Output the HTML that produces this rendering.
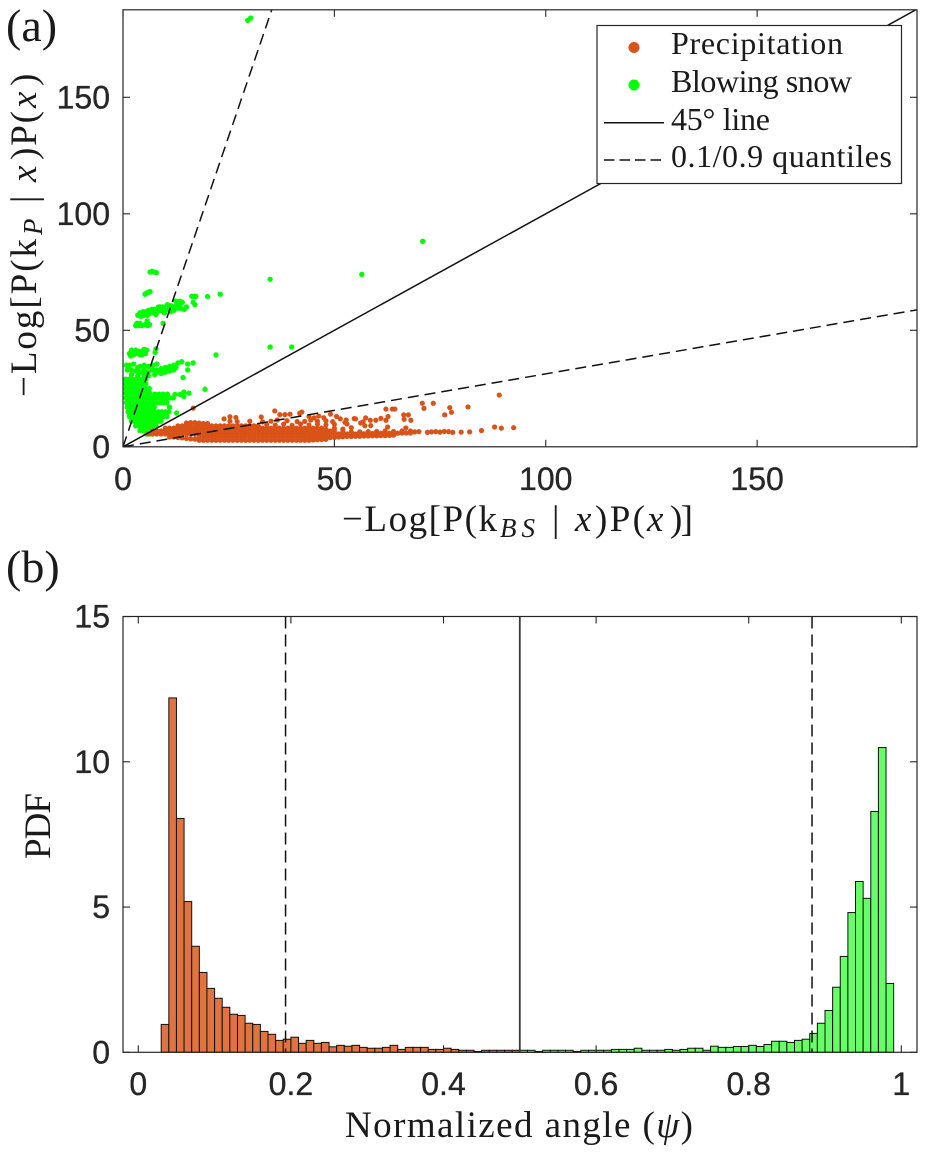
<!DOCTYPE html>
<html lang="en">
<head>
<meta charset="utf-8">
<title>Precipitation and blowing snow classification</title>
<style>
html,body{margin:0;padding:0;background:#fff;}
body{width:926px;height:1155px;overflow:hidden;}
svg{display:block;}
.tick{font-family:"Liberation Sans",sans-serif;font-size:32px;fill:#262626;stroke:#262626;stroke-width:0.35px;}
.serif{font-family:"Liberation Serif",serif;fill:#1a1a1a;}
.title{font-size:37px;}
.sub{font-size:27px;font-style:italic;}
.ital{font-style:italic;}
.leg{font-size:32px;}
</style>
</head>
<body>
<svg id="chart" xmlns="http://www.w3.org/2000/svg" width="926" height="1155" viewBox="0 0 926 1155">
  <defs>
    <clipPath id="clipTop"><rect x="123" y="10" width="794" height="437"></rect></clipPath>
  </defs>
  <text class="serif" x="6" y="41" font-size="46">(a)</text>
  <text class="serif" x="6" y="582" font-size="46">(b)</text>

  <g id="panelA"></g>
  <g id="panelB"></g>

  <g class="serif title">
    <text x="342" y="531" textLength="155" lengthAdjust="spacing">−Log[P(k</text>
    <text class="sub" x="500" y="537" textLength="35" lengthAdjust="spacing">BS</text>
    <text x="552" y="531">|</text>
    <text class="ital" x="575" y="531" textLength="18" lengthAdjust="spacing">x</text>
    <text x="595" y="531" textLength="50" lengthAdjust="spacing">)P(</text>
    <text class="ital" x="647" y="531" textLength="20" lengthAdjust="spacing">x</text>
    <text x="670" y="531" textLength="23" lengthAdjust="spacing">)]</text>
  </g>
  <g class="serif title" transform="translate(36,397) rotate(-90)">
    <text x="0" y="0" textLength="158" lengthAdjust="spacing">−Log[P(k</text>
    <text class="sub" x="162" y="6" textLength="21" lengthAdjust="spacing">P</text>
    <text x="194" y="0">|</text>
    <text class="ital" x="215" y="0" textLength="18" lengthAdjust="spacing">x</text>
    <text x="237" y="0" textLength="49" lengthAdjust="spacing">)P(</text>
    <text class="ital" x="289" y="0" textLength="20" lengthAdjust="spacing">x</text>
    <text x="311" y="0" textLength="12" lengthAdjust="spacing">)</text>
  </g>
  <text class="serif" transform="translate(50,859) rotate(-90)" font-size="37" textLength="66" lengthAdjust="spacing">PDF</text>
  <text class="serif title" x="345" y="1137" textLength="348" lengthAdjust="spacing">Normalized angle (<tspan class="ital">ψ</tspan>)</text>

  <g>
    <rect x="597" y="25.5" width="304.5" height="158" fill="#fff" stroke="#262626" stroke-width="1.2"></rect>
    <circle cx="634" cy="47.5" r="5.5" fill="#D95319"></circle>
    <text class="serif leg" x="671" y="54" textLength="172" lengthAdjust="spacing">Precipitation</text>
    <circle cx="634" cy="85" r="5.5" fill="#00FF00"></circle>
    <text class="serif leg" x="671" y="92" textLength="181" lengthAdjust="spacing">Blowing snow</text>
    <line x1="604" x2="664" y1="122.7" y2="122.7" stroke="#111" stroke-width="1.5"></line>
    <text class="serif leg" x="671" y="130" textLength="99" lengthAdjust="spacing">45° line</text>
    <line x1="604" x2="664" y1="160" y2="160" stroke="#111" stroke-width="1.5" stroke-dasharray="10.5 5"></line>
    <text class="serif leg" x="671" y="167" textLength="221" lengthAdjust="spacing">0.1/0.9 quantiles</text>
  </g>
</svg>

<script>
const scatterXTicks = [0, 50, 100, 150];
const scatterYTicks = [0, 50, 100, 150];
const referenceSlope = [1];
const quantileSlopes = [5.33, 0.313];

const blowingSnowPoints = [
[0.8,35],[1.5,35],[2.5,35.5],[3.5,34],[1,33],[2,33],[3,32.5],[4,32],[5,33],[6,32],[7,33],[8,33],[9,33.5],[10,34],[11,34.5],[12,35],[13,36],[13.9,36.5],[5,31],[6,30.5],[7.5,31],[8.5,32],[9.5,32],[10.5,33],[11.5,33.5],[12.5,34],[3.5,30.5],[2,31],[15.3,35.5],[16.6,36],[15.3,33],[14.2,29.7],
[4,34.5],[5,35],[6,34.5],[7,35],[8,35.5],[9,31.5],[10,32],[11,32.5],[12,33],
[0.6,29],[1.4,29],[2.2,29],[3,29],[3.8,29],[4.6,29],[5.4,29],
[0.6,27],[1.4,27],[2.2,27],[3,27],[3.8,27],[4.6,27],[5.4,27],
[0.6,25],[1.4,25],[2.2,25],[3,25],[3.8,25],[4.6,25],[5.4,25],[6.2,25],
[0.7,23],[1.5,23],[2.3,23],[3.1,23],[3.9,23],[4.7,23],[5.5,23],[6.3,23],[7.5,22.6],[8.5,22.6],[9.5,22.6],[10.5,22.6],
[0.7,21],[1.5,21],[2.3,21],[3.1,21],[3.9,21],[4.7,21],[5.5,21],[6.3,21],[7.1,21],[7.9,21],[8.7,21],[9.5,21],[10.3,21],[11.1,21],[11.9,21],
[0.8,19],[1.6,19],[2.4,19],[3.2,19],[4,19],[4.8,19],[5.6,19],[6.4,19],[7.2,19],[8,19],[8.8,19],[9.6,19],[10.4,19],
[1,17],[1.8,17],[2.6,17],[3.4,17],[4.2,17],[5,17],[5.8,17],[6.6,17],[7.4,17],[11,17],
[1.2,15],[2,15],[2.8,15],[3.6,15],[4.4,15],[5.2,15],[6,15],[6.8,15],[7.6,15],[8.4,15],[9.2,15],[10,15],[10.8,15],[12.7,14.5],
[1.5,13],[2.3,13],[3.1,13],[3.9,13],[4.7,13],[5.5,13],[6.3,13],[7.1,13],[7.9,13],[8.7,13],[9.5,13],[10.4,13],
[2,11],[2.8,11],[3.6,11],[4.4,11],[5.2,11],[6,11],[6.8,11],[7.6,11],[8.4,11],[9,11],
[3,9],[3.8,9],[4.6,9],[5.4,9],[6.2,9],[7,9],[7.8,9],
[4,7],[4.8,7],[5.6,7],[6.4,7],[7,7],[5.5,5.5],[6.5,5.5],
[12.3,22.5],[13.5,22.5],[14.4,23.5],[14.4,21.6],[15.6,23],[19.4,24.7],
[1.5,40],[2.2,40.5],[3,40],[3.8,41],[4.5,41],[5.3,40],[5.6,41.5],[7.8,42],[7.6,40.5],[4.5,39.5],[2.5,39.5],[22,39.4],[2,41.5],[3,41.5],[4,39.5],[5,41.8],[1.8,39],
[3,52],[3.6,52],[4.4,52],[5.3,52.5],[6.3,52.5],[5.7,54],[9.5,53],[3.3,53],[4,53],[5.8,52],
[3.5,56.5],[4.2,56],[5,56.5],[5.5,58],[6.2,57],[7,57.5],[7.5,59],[8.2,58],[9,58.5],[9.5,60],[10,58.5],[10.8,59],[11.5,60.5],[12.2,60],[12.8,61.5],[13.3,61],[13.7,59.5],[14.5,59],[15,60],[4.8,58],[6,58.5],[8.4,60],[10.5,61],[11.2,58],[16.6,62],[17,61],
[4,57.5],[5.8,56.5],[6.8,59],[7.8,56.8],[8.8,60],[9.8,57.5],[11,60.5],[12,58.5],[13,59.5],[12.5,62.5],[13.5,62.5],[14,62],
[5.2,65.5],[5.6,66],[6,66.3],[6.4,66.6],[6.4,75],[6.9,75.3],[7.4,75],[7.9,74.7],
[16.3,64.6],[16.8,64.6],[17.2,64.6],[20,64.5],[23,65.5],
[34.8,71.9],[56.5,74],[34.8,42.8],[39.9,42.8],[70.9,88.2],[29.5,183],[30.2,184]
];

const precipitationPoints = [
[18,2.8],[19,2.8],[20,2.8],[21,2.8],[22,2.8],[23,2.8],[24,2.8],[25,2.8],[26,2.8],[27,2.8],[28,2.8],[29,2.8],[30,2.8],[31,2.8],[32,2.8],[33,2.8],[34,2.8],[35,2.8],[36,2.8],[37,2.8],[38,2.8],[39,2.8],[40,2.8],[41,2.8],[42,2.8],[43,2.8],[44,2.8],[45,2.9],[46,3],[47,3.1],[48,3.2],
[11,4.2],[12,4.2],[13,4],[14,3.8],[15,3.6],[16,3.4],[17,3.3],[18,4.2],[19,4.2],[20,4.2],[21,4.2],[22,4.2],[23,4.2],[24,4.2],[25,4.2],[26,4.2],[27,4.2],[28,4.2],[29,4.2],[30,4.2],[31,4.2],[32,4.2],[33,4.2],[34,4.2],[35,4.2],[36,4.2],[37,4.2],[38,4.2],[39,4.2],[40,4.2],[41,4.2],[42,4.2],[43,4.2],[44,4.2],[45,4.2],[46,4.2],[47,4.2],[48,4.2],[49,4],[50,4],[51,4.2],[52,4.3],[53,4.4],[54,4.4],[55,4.5],[56,4.5],[57,4.6],[58,4.6],[59,4.7],[60,4.7],[61,4.8],[62,4.8],[63,4.9],[64,5],
[6,5.5],[7,5.5],[8,5.5],[9,5.5],[10,5.5],[11,5.5],[12,5.5],[13,5.5],[14,5.5],[15,5.5],[16,5.5],[17,5.5],[18,5.5],[19,5.5],[20,5.5],[21,5.5],[22,5.5],[23,5.5],[24,5.5],[25,5.5],[26,5.5],[27,5.5],[28,5.5],[29,5.5],[30,5.5],[31,5.5],[32,5.5],[33,5.5],[34,5.5],[35,5.5],[36,5.5],[37,5.5],[38,5.5],[39,5.5],[40,5.5],[41,5.5],[42,5.5],[43,5.5],[44,5.5],[45,5.5],[46,5.5],[47,5.5],[48,5.5],[49,5.5],[50,5.5],[51,5.5],[52,5.5],[53,5.5],[54,5.5],[55,5.5],[56,5.6],[57,5.6],[58,5.6],[59,5.7],[60,5.8],[61,5.8],[62,5.8],[63,5.8],[64,5.8],[65,5.8],[66,5.9],[67,5.9],[68,5.9],
[7,6.8],[8,6.8],[9,6.8],[10,6.8],[11,6.8],[12,6.8],[13,6.8],[14,6.8],[15,6.8],[16,6.8],[17,6.8],[18,6.8],[19,6.8],[20,6.8],[21,6.8],[22,6.8],[23,6.8],[24,6.8],[25,6.8],[26,6.8],[27,6.8],[28,6.8],[29,6.8],[30,6.8],[31,6.8],[32,6.8],[33,6.8],[34,6.8],[35,6.8],[36,6.8],[37,6.8],[38,6.8],[39,6.8],[40,6.8],[41,6.8],[42,6.8],[43,6.8],[44,6.8],[45,6.8],[46,6.8],[47,6.8],[48,6.8],[49,6.8],[50,6.8],[52,6.6],[54,6.4],[56,6.4],[58,6.5],[60,6.6],[62,6.8],[64,6.6],[66,6.8],[68,6.8],[69,6.4],[70,6.5],[72,6.2],[73,6.4],[74,6.5],[75,6.3],[76,6.6],[77,6.5],[78,6.2],[80,6.3],[82,6.4],[84.8,7],[87.9,8.5],[89.5,8],[92.4,8.2],
[10,8],[11,8],[12,8],[13,8],[14,8],[15,8],[16,8],[17,8],[18,8],[19,8],[20,8],[21,8],[22,8],[23,8],[24,8],[25,8],[26,8],[27,8],[28,8],[29,8],[30,8],[31,8],[32,8],[33,8],[34,8],[35,8],[36,8],[37,8],[38,8],[39,8],[40,8],[41,8],[42,8],[43,8],[44,8],[45,8],[46,8],[47,8],[48,7.5],[50,8],[52,7.6],[54,8.2],
[13,9],[14,9],[15,9],[16,9],[17,9],[18,9],[19,9],[20,9],[21,9],[22,9],[23,9],[24,9],[25,9],[26,9],[27,9],[28,9],[29,9],[30,9],[31,9],[32,9],[34,9.5],[36,9.3],[38,9.7],[40,9.2],[42,9.8],[44,9.3],[46,9.7],[48,9.4],[50,9.7],[53,9.8],
[15,10.2],[16,10.4],[17,10.4],[18,10.2],[19,10],[20,10],[25.3,11],[27,10.8],[30,11],[33,10.7],[35,11],[36.5,11.5],[38.8,11.2],[41.2,10.8],[43,10.9],[44.4,11.5],[46,11],[48,11.2],[49.6,10.8],[51.4,12],[52.5,10.5],
[16.6,16.6],[35.9,15.4],[37.1,13.8],[38.3,13.8],[39.5,14],[41.8,14.4],[25.3,12.9],[26.7,12.6],[23.9,12],[32.7,12.8],[42.3,14.9],[44,13],[45.2,12.4],[46.3,13.2],[47.5,12.5],[49.1,14],[50.5,13],[52.8,11.5],[54.7,12.1],[55,12],
[62.2,16.2],[63.7,16.2],[64.3,16.2],[66.4,13.7],[67.5,13.7],[66.5,11.8],[68.1,11.4],[62.7,13],[62.2,11.4],[61,12.2],[59.8,11.4],[58.5,11.4],[57.4,12.4],[56.2,10.2],[56.8,10.7],[57.2,9],[58.6,9.1],[62.6,8.5],[66.9,8.1],
[70.8,18.7],[73.4,18.7],[71.2,16.5],[77.3,16.8],[77.7,14.8],[76.1,13.7],[81.6,17.1],[89,22.2]
];

const pdfXTicks = [0, 0.2, 0.4, 0.6, 0.8, 1];
const pdfXTickLabels = ['0', '0.2', '0.4', '0.6', '0.8', '1'];
const pdfYTicks = [0, 5, 10, 15];
const pdfSolidLine = [0.5];
const pdfQuantiles = [0.193, 0.883];

const precipitationFirstBin = 0.03;
const blowingSnowFirstBin = 0.50;
const binWidth = 0.01;
const precipitationPdf = [0.96,12.2,8.05,5.19,3.65,2.75,2.2,1.86,1.55,1.31,1.27,1.0,0.96,0.72,0.62,0.41,0.45,0.52,0.31,0.41,0.31,0.34,0.19,0.24,0.21,0.24,0.17,0.14,0.14,0.17,0.24,0.1,0.17,0.17,0.17,0.1,0.1,0.14,0.1,0.07,0.07,0.03,0.07,0.07,0.07,0.07,0.07];
const blowingSnowPdf = [0.07,0.07,0.03,0.07,0.07,0.07,0.07,0.03,0.07,0.07,0.07,0.07,0.1,0.1,0.1,0.14,0.07,0.07,0.07,0.1,0.07,0.1,0.14,0.14,0.07,0.21,0.17,0.17,0.2,0.2,0.24,0.2,0.27,0.38,0.38,0.34,0.41,0.45,0.65,1.0,1.44,2.24,3.3,4.81,5.88,5.3,8.29,10.49,2.37];

const NS = 'http://www.w3.org/2000/svg';
const AX_LEFT = 123, AX_RIGHT = 917, AXIS = '#262626';
const TOP_T = 9.8, TOP_B = 446.8, BOT_T = 616.5, BOT_B = 1052.3;

function scatterX(v) { return AX_LEFT + v * 4.2275; }
function scatterY(v) { return TOP_B - v * 2.33; }
function pdfX(v) { return 138.3 + v * 763; }
function pdfY(v) { return BOT_B - v * 29.05; }

function make(tag, attrs, parent) {
  const el = document.createElementNS(NS, tag);
  for (const k in attrs) el.setAttribute(k, attrs[k]);
  parent.appendChild(el);
  return el;
}

const panelA = document.getElementById('panelA');
const panelB = document.getElementById('panelB');

/* ---------- panel A ---------- */
const clipGroup = make('g', { 'clip-path': 'url(#clipTop)' }, panelA);



blowingSnowPoints.forEach(function (p) {
  const c = make('circle', { cx: scatterX(p[0]), cy: scatterY(p[1]), r: 2.7, fill: '#00FF00' }, clipGroup);
  
  
});
precipitationPoints.forEach(function (p) {
  const c = make('circle', { cx: scatterX(p[0]), cy: scatterY(p[1]), r: 2.6, fill: '#D95319' }, clipGroup);
  
  
});
referenceSlope.forEach(function (m) {
  const l = make('line', { x1: scatterX(0), y1: scatterY(0), x2: scatterX(200), y2: scatterY(200 * m), stroke: '#111', 'stroke-width': 1.5 }, clipGroup);
  
  
});
quantileSlopes.forEach(function (m) {
  const l = make('line', { x1: scatterX(0), y1: scatterY(0), x2: scatterX(200), y2: scatterY(200 * m), stroke: '#111', 'stroke-width': 1.5, 'stroke-dasharray': '11 6' }, clipGroup);
  
  
});

function drawFrame(parent, top, bottom, name) {
  const r = make('rect', { x: AX_LEFT, y: top, width: AX_RIGHT - AX_LEFT, height: bottom - top, fill: 'none', stroke: AXIS, 'stroke-width': 1.2 }, parent);
  
  
}
function xTick(parent, px, top, bottom, label, baseline) {
  const a = make('line', { x1: px, x2: px, y1: bottom, y2: bottom - 7, stroke: AXIS, 'stroke-width': 1.1 }, parent);
  
  
  const b = make('line', { x1: px, x2: px, y1: top, y2: top + 7, stroke: AXIS, 'stroke-width': 1.1 }, parent);
  
  
  const t = make('text', { x: px, y: baseline, 'text-anchor': 'middle', class: 'tick' }, parent);
  
  
  t.textContent = label;
}
function yTick(parent, py, label) {
  const a = make('line', { x1: AX_LEFT, x2: AX_LEFT + 7, y1: py, y2: py, stroke: AXIS, 'stroke-width': 1.1 }, parent);
  
  
  const b = make('line', { x1: AX_RIGHT, x2: AX_RIGHT - 7, y1: py, y2: py, stroke: AXIS, 'stroke-width': 1.1 }, parent);
  
  
  const t = make('text', { x: 110, y: py + 11, 'text-anchor': 'end', class: 'tick' }, parent);
  
  
  t.textContent = label;
}

drawFrame(panelA, TOP_T, TOP_B, 'scatter-axes-box');
scatterXTicks.forEach(function (v) { xTick(panelA, scatterX(v), TOP_T, TOP_B, String(v), 490); });
scatterYTicks.forEach(function (v) { yTick(panelA, scatterY(v), String(v)); });

/* ---------- panel B ---------- */
function drawBars(values, firstBin, fill, name) {
  values.forEach(function (v, i) {
    const lo = firstBin + i * binWidth;
    const x0 = pdfX(lo), x1 = pdfX(lo + binWidth);
    const r = make('rect', { x: x0, y: pdfY(v), width: x1 - x0, height: BOT_B - pdfY(v), fill: fill, stroke: '#111', 'stroke-width': 1 }, panelB);
    
    
  });
}
drawBars(precipitationPdf, precipitationFirstBin, '#E17340', 'precipitation-bar');
drawBars(blowingSnowPdf, blowingSnowFirstBin, '#66FF66', 'blowing-snow-bar');

pdfSolidLine.forEach(function (v) {
  const l = make('line', { x1: pdfX(v), x2: pdfX(v), y1: BOT_T, y2: BOT_B, stroke: '#3a3a3a', 'stroke-width': 1.8 }, panelB);
  
  
});
pdfQuantiles.forEach(function (v) {
  const l = make('line', { x1: pdfX(v), x2: pdfX(v), y1: BOT_T, y2: BOT_B, stroke: '#111', 'stroke-width': 1.5, 'stroke-dasharray': '12 6' }, panelB);
  
  
});

drawFrame(panelB, BOT_T, BOT_B, 'histogram-axes-box');
pdfXTicks.forEach(function (v, i) { xTick(panelB, pdfX(v), BOT_T, BOT_B, pdfXTickLabels[i], 1095); });
pdfYTicks.forEach(function (v) { yTick(panelB, pdfY(v), String(v)); });
</script>
</body>
</html>
